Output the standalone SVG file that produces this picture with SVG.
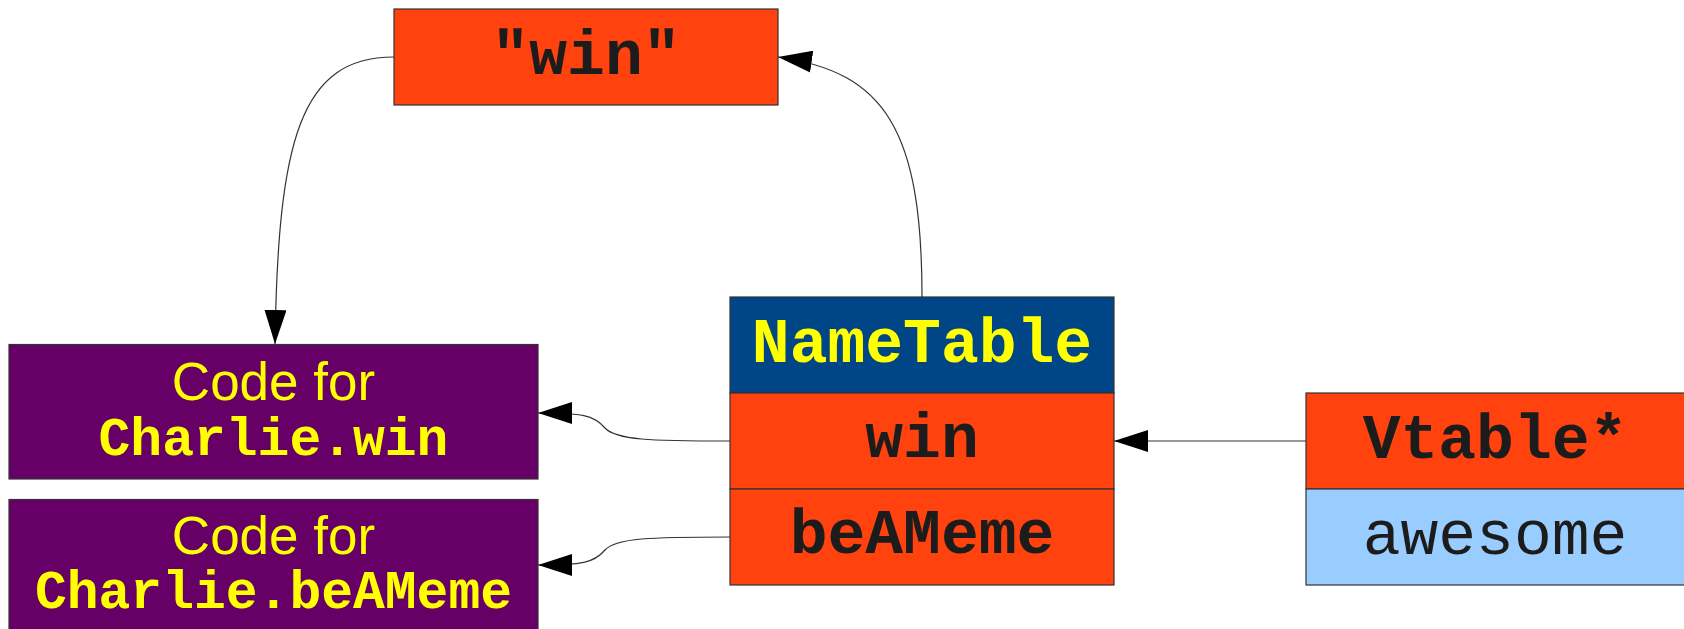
<svg xmlns="http://www.w3.org/2000/svg" width="1684" height="629" viewBox="0 0 1684 629">
<style>
.box{stroke:#333333;stroke-width:1.2}
.orange{fill:#ff420e}
.navy{fill:#004586}
.purple{fill:#660066}
.lblue{fill:#99ccff}
.mono{font-family:"Liberation Mono","Courier New",monospace;font-size:63px;text-anchor:middle}
.bold{font-weight:bold}
.dark{fill:#1c1c1c}
.yellow{fill:#ffff00}
.sans{font-family:"Liberation Sans",Arial,sans-serif;font-size:53px;text-anchor:middle}
.code{font-family:"Liberation Mono","Courier New",monospace;font-size:53px;font-weight:bold;text-anchor:middle}
.conn{fill:none;stroke:#333333;stroke-width:1.2;marker-end:url(#arr)}
</style>
<defs>
<marker id="arr" markerUnits="userSpaceOnUse" markerWidth="34" markerHeight="22" refX="34" refY="11" orient="auto" viewBox="0 0 34 22">
<path d="M0,0 L34,11 L0,22 z" fill="#000000"/>
</marker>
</defs>
<rect width="1684" height="629" fill="#ffffff"/>

<g id="connectors">
<path class="conn" d="M922,297 C922,130 885,72 778,57"/>
<path class="conn" d="M394,57 C300,57 278,140 275,344"/>
<path class="conn" d="M730,441 C650,441 616,440 605,428 C594,415 582,413 538,413"/>
<path class="conn" d="M730,537 C650,537 616,538 605,550 C594,563 582,565 538,565"/>
<path class="conn" d="M1306,441 L1114,441"/>
</g>

<g id="win-string">
<rect class="box orange" x="394" y="9" width="384" height="96"/>
<text class="mono bold dark" x="586" y="74">"win"</text>
</g>

<g id="code-win">
<rect class="box purple" x="9" y="344.5" width="529" height="134.5"/>
<text class="sans yellow" x="273.5" y="400">Code for</text>
<text class="code yellow" x="273.5" y="455">Charlie.win</text>
</g>

<g id="code-beameme">
<rect class="box purple" x="9" y="499.5" width="529" height="134.5"/>
<text class="sans yellow" x="273.5" y="554">Code for</text>
<text class="code yellow" x="273.5" y="608">Charlie.beAMeme</text>
</g>

<g id="nametable">
<rect class="box navy" x="730" y="297" width="384" height="96"/>
<text class="mono bold yellow" x="922" y="362">NameTable</text>
<rect class="box orange" x="730" y="393" width="384" height="96"/>
<text class="mono bold dark" x="922" y="457">win</text>
<rect class="box orange" x="730" y="489" width="384" height="96"/>
<text class="mono bold dark" x="922" y="553">beAMeme</text>
</g>

<g id="vtable">
<rect class="box orange" x="1306" y="393" width="390" height="96"/>
<text class="mono bold dark" x="1495" y="458">Vtable*</text>
<rect class="box lblue" x="1306" y="489" width="390" height="96"/>
<text class="mono dark" x="1495" y="554">awesome</text>
</g>
</svg>
